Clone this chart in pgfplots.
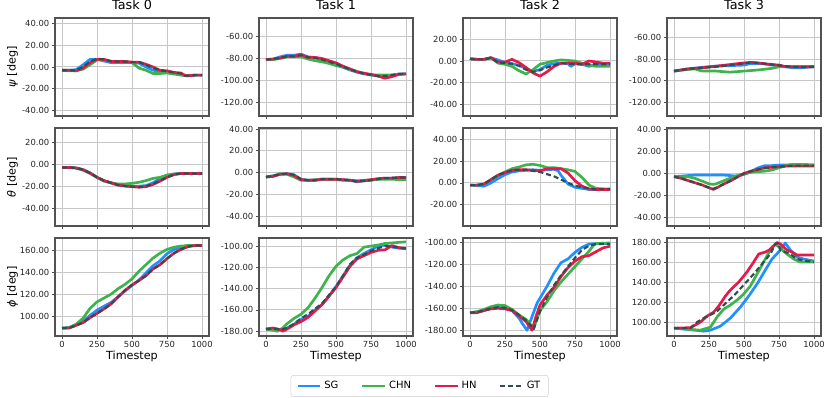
\documentclass[border=0pt]{standalone}
\usepackage{fontspec}
\setmainfont{DejaVu Sans}
\usepackage{pgfplots}
\pgfplotsset{compat=1.18}

\definecolor{sgc}{RGB}{30,144,255}
\definecolor{chnc}{RGB}{60,180,75}
\definecolor{hnc}{RGB}{230,25,75}
\definecolor{gtc}{RGB}{47,79,79}

\pgfplotsset{
  panel/.style={
    scale only axis, width=115.5pt, height=73.5pt, anchor=north west,
    xmin=-50, xmax=1050, xtick={0,250,500,750,1000},
    ytick distance=20, scaled y ticks=false,
    axis line style={draw=black!68, line width=0.9pt},
    grid=major, major grid style={black!22, line width=0.75pt},
    tick align=outside, xtick pos=bottom, ytick pos=left,
    major tick length=2.6pt, tick style={black!70, line width=0.6pt},
    tick label style={font=\fontsize{6.3}{7}\selectfont, text=black!85},
    yticklabel style={inner sep=1.5pt, /pgf/number format/.cd, fixed, fixed zerofill, precision=2, assume math mode=true},
    xticklabel style={inner sep=1.5pt, /pgf/number format/.cd, 1000 sep={}, assume math mode=true},
    label style={font=\fontsize{8.4}{10}\selectfont},
    xlabel style={at={(axis description cs:0.5,-0.21)}, anchor=center},
    ylabel style={at={(axis description cs:-0.276,0.5)}, anchor=center},
    title style={font=\fontsize{9.6}{11}\selectfont, yshift=-3pt},
    every axis plot/.append style={line join=round},
    legend image code/.code={\draw[#1] (0pt,0pt) -- (17pt,0pt);},
  },
  nolab/.style={xticklabels={}},
  bot/.style={xlabel={Timestep}},
  sg/.style={color=sgc, line width=2pt},
  chn/.style={color=chnc, line width=2pt},
  hn/.style={color=hnc, line width=2pt},
  gt/.style={color=gtc, line width=1.6pt, dash pattern=on 3.8pt off 2.2pt},
}

\begin{document}
\begin{tikzpicture}
\useasboundingbox (0,0) rectangle (623.25pt,-298.5pt);

% ---------------- row 0: psi ----------------
\begin{axis}[panel, nolab, at={(41.25pt,-13.5pt)}, ymin=-45, ymax=45,
  title={Task 0}, ylabel={\textit{ψ} [deg]}]
\addplot[sg] coordinates {(0,-3)(50,-3)(100,-2.5)(150,2)(200,7)(250,7)(300,5.5)(350,4)(400,4)(450,4)(500,4)(550,3.5)(600,0)(650,-3)(700,-4)(750,-5)(800,-6)(850,-7)(900,-8)(950,-7.5)(1000,-7.5)};
\addplot[chn] coordinates {(0,-3)(50,-3.5)(100,-3.5)(150,-2)(200,2)(250,6.5)(300,7)(350,5)(400,5)(450,5)(500,4)(550,-1)(600,-3)(650,-6)(700,-6)(750,-5.5)(800,-6.5)(850,-7.5)(900,-8)(950,-7.5)(1000,-7.5)};
\addplot[hn] coordinates {(0,-3)(50,-3)(100,-3.5)(150,-1)(200,4)(250,7)(300,7)(350,5)(400,5)(450,5)(500,4.5)(550,4.5)(600,2.5)(650,0)(700,-3)(750,-3.5)(800,-5)(850,-5.5)(880,-8)(900,-8)(950,-7.5)(1000,-7.5)};
\addplot[gt] coordinates {(0,-3)(50,-3)(100,-3)(150,0)(200,5)(250,7.5)(300,7)(350,5.5)(400,5)(450,5)(500,4.5)(550,4.5)(600,2)(650,-1)(700,-3)(750,-4)(800,-5)(850,-6)(880,-8)(900,-8)(950,-7.5)(1000,-7.5)};
\end{axis}

\begin{axis}[panel, nolab, at={(194.25pt,-13.5pt)}, ymin=-132.5, ymax=-43, title={Task 1}]
\addplot[sg] coordinates {(0,-81)(50,-80.5)(100,-78.5)(150,-77)(200,-77)(250,-76)(300,-78.5)(350,-79)(400,-81)(450,-83)(500,-85)(550,-88)(600,-90.5)(650,-92.5)(700,-94)(750,-95)(800,-96)(850,-96.5)(900,-95.5)(950,-94)(1000,-94)};
\addplot[chn] coordinates {(0,-81)(50,-81)(100,-80)(150,-78.5)(200,-78.5)(250,-78.5)(300,-80.5)(350,-82)(400,-83)(450,-84.5)(500,-86.5)(550,-88)(600,-90)(650,-92)(700,-93.5)(750,-95)(800,-95)(850,-95)(900,-95)(950,-94.5)(1000,-94)};
\addplot[hn] coordinates {(0,-81)(50,-80.5)(100,-79.5)(150,-78)(200,-78)(250,-76.5)(300,-79)(350,-79)(400,-80)(450,-82)(500,-84)(550,-87)(600,-89.5)(650,-92)(700,-93.5)(750,-94.5)(800,-96)(850,-98)(900,-96.5)(950,-94.5)(1000,-94)};
\addplot[gt] coordinates {(0,-81)(50,-80.5)(100,-79.5)(150,-78)(200,-78)(250,-77)(300,-79)(350,-79.5)(400,-81)(450,-83)(500,-85)(550,-87.5)(600,-90)(650,-92)(700,-94)(750,-95)(800,-96)(850,-96)(900,-95)(950,-94)(1000,-94)};
\end{axis}

\begin{axis}[panel, nolab, at={(347.25pt,-13.5pt)}, ymin=-50.8, ymax=39.7, title={Task 2}]
\addplot[sg] coordinates {(0,2)(50,1.5)(100,1.5)(150,3)(200,1)(250,-1.5)(300,-2.5)(350,-4)(400,-7)(450,-9.5)(500,-8)(550,-4)(600,-2.5)(650,-2)(700,-2.5)(720,-5)(750,-2.5)(800,-3)(850,-5)(900,-3)(950,-3)(1000,-3)};
\addplot[chn] coordinates {(0,2)(50,1.5)(100,1.5)(150,3)(200,-2)(250,-3)(300,-5)(350,-9)(400,-12)(450,-8)(500,-3)(550,-1.5)(600,0)(650,1)(700,0.5)(750,0)(800,-2)(850,-4)(900,-5)(950,-5)(1000,-5)};
\addplot[hn] coordinates {(0,2)(50,1.5)(100,1.5)(150,3)(200,-1)(250,-1)(300,1.5)(350,-1.5)(400,-6)(450,-11)(500,-14)(550,-10)(600,-5)(650,-2)(700,-2)(750,-2)(800,-3)(850,0)(900,-1)(950,-2)(1000,-2)};
\addplot[gt] coordinates {(0,2)(50,1.5)(100,1.5)(150,3)(200,-1.5)(250,-2)(300,-2.5)(350,-4.5)(400,-8)(450,-10)(500,-8.5)(550,-6)(600,-4)(650,-2)(700,-2.5)(750,-3)(800,-3)(850,-3)(900,-3)(950,-3)(1000,-3)};
\end{axis}

\begin{axis}[panel, nolab, at={(500.25pt,-13.5pt)}, ymin=-132.2, ymax=-42.3, title={Task 3}]
\addplot[sg] coordinates {(0,-91)(100,-89)(200,-87.5)(300,-86.5)(400,-86)(500,-85.5)(550,-84)(600,-84)(650,-84.5)(700,-85.5)(800,-87)(850,-88)(900,-88)(1000,-87)};
\addplot[chn] coordinates {(0,-91)(100,-89.5)(150,-89)(200,-91)(300,-91)(400,-92)(500,-91)(600,-90)(700,-88.5)(750,-87)(800,-87)(1000,-87)};
\addplot[hn] coordinates {(0,-91)(100,-89)(200,-88)(300,-86.5)(400,-85)(500,-83.5)(550,-83)(600,-83.5)(700,-85)(750,-85.5)(800,-87)(850,-87)(900,-87)(1000,-87)};
\addplot[gt] coordinates {(0,-91)(100,-89)(200,-88)(300,-87)(400,-85.5)(500,-84)(550,-83)(600,-83.5)(700,-85)(800,-86.5)(850,-87)(900,-87.5)(1000,-87)};
\end{axis}

% ---------------- row 1: theta ----------------
\begin{axis}[panel, nolab, at={(41.25pt,-96pt)}, ymin=-56.3, ymax=32.9, ylabel={\textit{θ} [deg]}]
\addplot[sg] coordinates {(0,-3)(50,-3)(100,-3.5)(150,-5)(200,-8)(250,-12)(300,-15)(350,-17)(400,-19)(450,-19.5)(500,-20)(550,-20)(600,-19.5)(650,-17)(700,-13)(750,-10)(800,-9)(850,-8.5)(1000,-8.5)};
\addplot[chn] coordinates {(0,-3)(50,-3)(100,-3.5)(150,-5.5)(200,-8.5)(250,-12)(300,-15.5)(350,-17)(400,-18)(450,-18)(500,-17.5)(550,-16.5)(600,-15)(650,-13)(700,-12)(750,-10)(800,-9)(850,-8.5)(1000,-8.5)};
\addplot[hn] coordinates {(0,-3)(50,-3)(100,-3.5)(150,-5)(200,-8)(250,-12)(300,-15)(350,-17)(400,-19)(450,-20)(500,-20.5)(550,-21)(600,-20.5)(650,-18.5)(700,-15.5)(750,-12)(800,-9.5)(850,-8.5)(1000,-8.5)};
\addplot[gt] coordinates {(0,-3)(50,-3)(100,-3.5)(150,-5)(200,-8)(250,-12)(300,-15)(350,-17)(400,-19)(450,-20)(500,-20.5)(550,-21)(600,-20)(650,-18)(700,-15)(750,-12)(800,-9.5)(850,-8.5)(1000,-8.5)};
\end{axis}

\begin{axis}[panel, nolab, at={(194.25pt,-96pt)}, ymin=-49, ymax=41]
\addplot[sg] coordinates {(0,-4)(50,-3)(100,-1.5)(150,-1)(200,-2)(250,-6)(300,-7)(350,-7)(400,-6)(450,-6)(500,-6)(550,-6.5)(600,-7)(650,-8.5)(700,-7.5)(750,-7)(800,-6)(850,-5)(900,-5)(950,-4.5)(1000,-4.5)};
\addplot[chn] coordinates {(0,-4)(50,-3)(100,-1)(150,-1.5)(200,-4)(250,-7)(300,-7)(350,-6.5)(400,-6)(450,-6)(500,-6.5)(550,-7)(600,-7)(650,-7.5)(700,-7)(750,-6.5)(800,-6)(850,-6)(900,-6)(950,-6.5)(1000,-6.5)};
\addplot[hn] coordinates {(0,-4)(50,-3.5)(100,-1.5)(150,-1)(200,-2.5)(250,-6.5)(300,-7)(350,-7)(400,-6)(450,-6)(500,-6)(550,-6.5)(600,-7)(650,-8)(700,-7.5)(750,-6.5)(800,-5.5)(850,-5)(900,-5)(950,-4.5)(1000,-4.5)};
\addplot[gt] coordinates {(0,-4)(50,-3)(100,-1.5)(150,-1)(200,-2)(250,-6)(300,-7)(350,-7)(400,-6)(450,-6)(500,-6)(550,-6.5)(600,-7)(650,-8)(700,-7.5)(750,-7)(800,-6)(850,-5)(900,-5)(950,-4.5)(1000,-4.5)};
\end{axis}

\begin{axis}[panel, nolab, at={(347.25pt,-96pt)}, ymin=-39.4, ymax=50.2]
\addplot[sg] coordinates {(0,-2)(50,-2.5)(100,-3)(150,0)(200,4)(250,7.5)(300,10)(350,11)(400,11.5)(450,12)(500,11.5)(550,12)(600,12.5)(630,11)(650,7)(700,-1)(750,-4)(800,-5)(850,-6)(900,-6)(1000,-6)};
\addplot[chn] coordinates {(0,-2)(50,-2)(100,-1)(150,3)(200,7)(250,10)(300,13)(350,14.5)(400,16.5)(450,17)(500,16)(550,14)(600,14)(650,13)(700,12)(750,10.5)(800,5)(850,-2)(900,-5)(950,-5.5)(1000,-5.5)};
\addplot[hn] coordinates {(0,-2)(50,-2)(100,-1)(150,3)(200,7)(250,9.5)(300,11.5)(350,12)(400,12)(450,11.5)(500,11)(550,13)(600,13)(650,13)(700,9)(750,2)(800,-3)(850,-5.5)(900,-6)(1000,-6)};
\addplot[gt] coordinates {(0,-2)(50,-2)(100,-1)(150,3)(200,7)(250,9.5)(300,11.5)(350,12)(400,12)(450,11)(500,10)(550,8)(600,6)(650,3)(700,0)(750,-2.5)(800,-4)(850,-5)(900,-6)(950,-5.5)(1000,-5.5)};
\end{axis}

\begin{axis}[panel, nolab, at={(500.25pt,-96pt)}, ymin=-47.6, ymax=41]
\addplot[sg] coordinates {(0,-3)(50,-2.5)(100,-2)(150,-1.5)(200,-1.5)(250,-1.5)(300,-1.5)(350,-1.5)(400,-2)(450,-2.5)(500,-1)(550,1.5)(600,5)(650,7)(700,7)(750,7.5)(800,7.5)(850,8)(900,8)(1000,7.5)};
\addplot[chn] coordinates {(0,-3)(50,-3)(100,-3)(150,-4.5)(200,-7)(250,-9.5)(280,-10)(300,-9.5)(350,-7)(400,-4.5)(450,-2)(500,-0.5)(550,1)(600,1.5)(650,2)(700,3)(750,5)(800,7)(850,8)(900,8)(1000,7.5)};
\addplot[hn] coordinates {(0,-3)(50,-4.5)(100,-6.5)(150,-8.5)(200,-10.5)(250,-13)(280,-14.5)(300,-13.5)(350,-10)(400,-7)(450,-3.5)(500,0)(550,2)(600,3.5)(650,5)(700,5.5)(750,6)(800,6.5)(850,6.5)(900,6.5)(1000,6.5)};
\addplot[gt] coordinates {(0,-3)(50,-4.5)(100,-6.5)(150,-8.5)(200,-10.5)(250,-13)(280,-14)(300,-13)(350,-10)(400,-7)(450,-3.5)(500,0)(550,2)(600,3.5)(650,5)(700,5.5)(750,6)(800,6.5)(850,7)(900,7)(1000,7)};
\end{axis}

% ---------------- row 2: phi ----------------
\begin{axis}[panel, bot, at={(41.25pt,-178.5pt)}, ymin=81.8, ymax=171.4, ylabel={\textit{ϕ} [deg]}]
\addplot[sg] coordinates {(0,89)(50,89.5)(100,92)(150,95.5)(200,100.5)(250,105.5)(300,109)(350,112.5)(400,117.5)(450,123)(500,128)(550,133)(600,139.5)(650,146)(700,150.5)(750,157)(800,161)(850,163)(900,164.5)(1000,164.5)};
\addplot[chn] coordinates {(0,89)(50,89.5)(100,92.5)(150,98)(200,107)(250,113)(300,116.5)(350,120)(400,125)(450,129)(500,134)(550,141)(600,147)(650,153)(700,157.5)(750,161)(800,163)(850,164)(900,164.5)(1000,164.5)};
\addplot[hn] coordinates {(0,89)(50,89)(100,91.5)(150,94)(200,98.5)(250,102.5)(300,106.5)(350,111)(400,117.5)(450,123.5)(500,128.5)(550,132.5)(600,137)(650,143)(700,147)(750,152.5)(800,157.5)(850,161)(900,163.5)(950,164.5)(1000,164.5)};
\addplot[gt] coordinates {(0,89)(50,89)(100,91.5)(150,94)(200,98.5)(250,102.5)(300,106.5)(350,111)(400,117.5)(450,123.5)(500,128.5)(550,132.5)(600,137)(650,143)(700,147)(750,152.5)(800,157.5)(850,161)(900,163.5)(950,164.5)(1000,164.5)};
\end{axis}

\begin{axis}[panel, bot, at={(194.25pt,-178.5pt)}, ymin=-184.5, ymax=-92.4,
  legend style={at={(1.043,-0.51)}, anchor=center, legend columns=4,
    draw=black!18, rounded corners=2pt, font=\fontsize{7.5}{8.5}\selectfont,
    inner xsep=4pt, inner ysep=2.5pt,
    /tikz/every even column/.append style={column sep=15pt}},
  legend cell align=left]
\addplot[sg] coordinates {(0,-178)(50,-177.5)(100,-178.5)(150,-177)(200,-173.5)(250,-169)(300,-166)(350,-160)(400,-155)(450,-147)(500,-138)(550,-128)(600,-118)(650,-111)(700,-107)(750,-103.5)(800,-100)(850,-99)(900,-101)(950,-102)(1000,-102)};
\addplot[chn] coordinates {(0,-178)(50,-179)(80,-180)(120,-177)(150,-173)(200,-168)(250,-164)(300,-158)(350,-149)(400,-139)(450,-128)(500,-119)(550,-113)(600,-109)(650,-107)(700,-101)(750,-100)(800,-99)(850,-97.5)(900,-97)(1000,-96)};
\addplot[hn] coordinates {(0,-178)(50,-177)(100,-178.5)(120,-180)(150,-178)(200,-174)(250,-171)(300,-167)(350,-161)(400,-155)(450,-147)(500,-139)(550,-129)(600,-119)(650,-112)(700,-109)(750,-106)(800,-104)(850,-103.5)(900,-99.5)(950,-101.5)(1000,-102.5)};
\addplot[gt] coordinates {(0,-178)(50,-177.5)(100,-178.5)(150,-177)(200,-173)(250,-168)(300,-164)(350,-159)(400,-154)(450,-146)(500,-138)(550,-128)(600,-117)(650,-111)(700,-108)(750,-104.5)(800,-102)(850,-100)(900,-100.5)(950,-101.5)(1000,-102)};
\legend{SG, CHN, HN, GT}
\end{axis}

\begin{axis}[panel, bot, at={(347.25pt,-178.5pt)}, ymin=-185.2, ymax=-96]
\addplot[sg] coordinates {(0,-164)(50,-163.5)(100,-162)(150,-160)(200,-159)(250,-160)(300,-162)(350,-169)(380,-175)(407,-180)(430,-172)(480,-155)(550,-140)(600,-128)(650,-118.5)(700,-115)(750,-109)(800,-104.5)(850,-101.5)(900,-101)(1000,-101)};
\addplot[chn] coordinates {(0,-164)(50,-163)(100,-161)(150,-158.5)(200,-157)(250,-157.5)(300,-161)(350,-166)(400,-170)(455,-178)(500,-162)(550,-154)(600,-144)(650,-136)(700,-129)(750,-122)(800,-115)(850,-108)(880,-103)(900,-101)(1000,-100.5)};
\addplot[hn] coordinates {(0,-164)(50,-164)(100,-162)(150,-160.5)(200,-160)(250,-160.5)(300,-162)(350,-167)(400,-172)(443,-180)(470,-168)(500,-157)(550,-148)(600,-141)(650,-131)(700,-123)(750,-117)(800,-113)(850,-112)(900,-108.5)(950,-105)(1000,-103.5)};
\addplot[gt] coordinates {(0,-164)(50,-163.5)(100,-162)(150,-160)(200,-159)(250,-159.5)(300,-161.5)(350,-166)(400,-171)(430,-175)(455,-179)(480,-170)(500,-163)(550,-150)(600,-139)(650,-130)(700,-122)(750,-114)(800,-107)(850,-103)(900,-101.5)(1000,-101.5)};
\end{axis}

\begin{axis}[panel, bot, at={(500.25pt,-178.5pt)}, ymin=86.2, ymax=184]
\addplot[sg] coordinates {(0,94)(117,92.5)(212,91)(260,92)(331,96)(402,104)(474,115)(533,126)(593,138)(652,152)(700,163)(760,172)(795,179)(831,172)(879,165)(926,163)(1000,161)};
\addplot[chn] coordinates {(0,94)(93,93)(188,92)(260,95)(307,105)(355,113)(402,117)(450,122)(497,128)(545,136)(593,148)(640,160)(688,172)(724,178)(748,175)(807,168)(855,163)(903,160)(1000,160)};
\addplot[hn] coordinates {(0,94)(117,94.5)(188,100)(236,106)(283,110)(319,116)(367,126)(402,132)(462,140)(521,150)(569,160)(605,168)(652,170)(680,172)(736,179.5)(760,178)(807,172)(843,170)(879,167)(1000,167)};
\addplot[gt] coordinates {(0,94)(50,94)(117,94)(164,100)(224,105)(300,110)(378,120)(438,128)(497,137)(569,148)(640,160)(688,168)(724,178)(747,179)(759,172)(831,168)(878,163)(950,161)(1000,160)};
\end{axis}
\end{tikzpicture}
\end{document}
